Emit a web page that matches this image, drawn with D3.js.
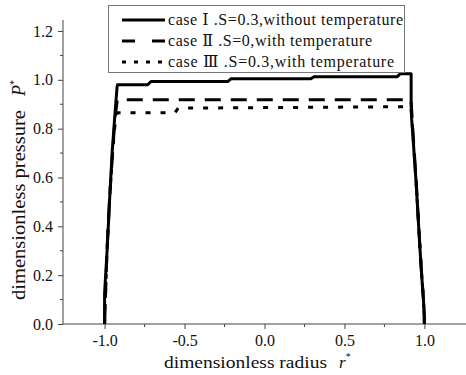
<!DOCTYPE html>
<html>
<head>
<meta charset="utf-8">
<script src="https://cdn.jsdelivr.net/npm/d3@7"></script>
<style>
  body { margin: 0; background: #fff; }
  text { font-family: "Liberation Serif", "DejaVu Serif", serif; }
</style>
</head>
<body>
<svg width="466" height="375"></svg>
<script>
// case I: S=0.3, without temperature (solid)
const rCase1 = [-1.0, -1.0, -0.983, -0.969, -0.952, -0.937, -0.922, -0.919, -0.73, -0.71, -0.23, -0.21, 0.29, 0.31, 0.83, 0.85, 0.917, 0.917, 0.92, 0.927, 0.948, 0.964, 0.979, 0.994, 1.0, 1.0];
const pCase1 = [0, 0.126, 0.315, 0.504, 0.71, 0.843, 0.97, 0.98, 0.98, 0.993, 0.993, 1.004, 1.004, 1.013, 1.013, 1.025, 1.025, 0.9, 0.84, 0.78, 0.58, 0.40, 0.235, 0.098, 0.03, 0];
// case II: S=0, with temperature (dashed)
const rCase2 = [-1.0, -0.985, -0.97, -0.95, -0.935, -0.922, -0.92, 0.915, 0.918, 0.93, 0.95, 0.965, 0.98, 0.995, 1.0];
const pCase2 = [0, 0.3, 0.5, 0.7, 0.84, 0.91, 0.918, 0.918, 0.9, 0.77, 0.57, 0.39, 0.23, 0.09, 0];
// case III: S=0.3, with temperature (dotted)
const rCase3 = [-1.0, -0.985, -0.97, -0.95, -0.932, -0.922, -0.92, -0.56, -0.54, 0.915, 0.918, 0.93, 0.95, 0.965, 0.98, 0.995, 1.0];
const pCase3 = [0, 0.3, 0.5, 0.7, 0.84, 0.862, 0.865, 0.865, 0.884, 0.89, 0.87, 0.76, 0.56, 0.39, 0.23, 0.09, 0];

const xTicks = [-1.0, -0.5, 0.0, 0.5, 1.0];
const xTickLabels = ["-1.0", "-0.5", "0.0", "0.5", "1.0"];
const xMinorTicks = [-0.75, -0.25, 0.25, 0.75];
const yTicks = [0, 0.2, 0.4, 0.6, 0.8, 1.0, 1.2];
const yTickLabels = ["0.0", "0.2", "0.4", "0.6", "0.8", "1.0", "1.2"];
const yMinorTicks = [0.1, 0.3, 0.5, 0.7, 0.9, 1.1];
const legendLabels = ["case \u2160 .S=0.3,without temperature", "case \u2161 .S=0,with temperature", "case \u2162 .S=0.3,with temperature"];
const legendWidths = [235, 204, 226];

const svg = d3.select("svg");
const x = d3.scaleLinear().domain([-1.26, 1.26]).range([63, 466]);
const y = d3.scaleLinear().domain([0, 1.245]).range([324, 20]);
const axisColor = "#444";
const serif = "Liberation Serif";

// x axis
const gx = svg.append("g").attr("transform", "translate(0,324)");
gx.call(d3.axisBottom(x).tickValues(xTicks).tickSize(5).tickPadding(6)
  .tickFormat((d, i) => xTickLabels[i]));
gx.attr("font-family", serif);
gx.selectAll(".tick text").attr("font-size", 16).attr("fill", "#111");
gx.select(".domain").attr("stroke", axisColor).attr("d", "M63,0H466");
gx.selectAll(".tick line").attr("stroke", axisColor);
gx.selectAll(".minor").data(xMinorTicks).enter().append("line")
  .attr("x1", d => x(d)).attr("x2", d => x(d)).attr("y1", 0).attr("y2", 3)
  .attr("stroke", axisColor);

// y axis
const gy = svg.append("g").attr("transform", "translate(63,0)");
gy.call(d3.axisLeft(y).tickValues(yTicks).tickSize(5).tickPadding(5)
  .tickFormat((d, i) => yTickLabels[i]));
gy.attr("font-family", serif);
gy.selectAll(".tick text").attr("font-size", 16).attr("fill", "#111");
gy.select(".domain").attr("stroke", axisColor).attr("d", "M0,324V20");
gy.selectAll(".tick line").attr("stroke", axisColor);
gy.selectAll(".minor").data(yMinorTicks).enter().append("line")
  .attr("x1", 0).attr("x2", -3).attr("y1", d => y(d)).attr("y2", d => y(d))
  .attr("stroke", axisColor);

// axis titles
const yt = svg.append("text").attr("transform", "translate(25,300) rotate(-90)")
  .attr("font-family", serif).attr("font-size", 18).attr("fill", "#111");
yt.append("tspan").attr("textLength", 190).attr("lengthAdjust", "spacingAndGlyphs").text("dimensionless pressure");
yt.append("tspan").attr("dx", 14).attr("font-style", "italic").text("P");
yt.append("tspan").attr("font-size", 10).attr("dy", -8).text("*");

const xt = svg.append("text").attr("x", 164).attr("y", 368)
  .attr("font-family", serif).attr("font-size", 17).attr("fill", "#111");
xt.append("tspan").attr("textLength", 163).attr("lengthAdjust", "spacingAndGlyphs").text("dimensionless radius");
xt.append("tspan").attr("dx", 12).attr("font-style", "italic").text("r");
xt.append("tspan").attr("font-size", 10).attr("dy", -8).text("*");

// series
const line = d3.line().x(d => x(d[0])).y(d => y(d[1]));
const series = [
  { r: rCase3, p: pCase3, dash: "5,10" },
  { r: rCase2, p: pCase2, dash: "16,10" },
  { r: rCase1, p: pCase1, dash: null }
];
series.forEach(s => {
  svg.append("path")
    .attr("d", line(d3.zip(s.r, s.p)))
    .attr("fill", "none").attr("stroke", "#000").attr("stroke-width", 3)
    .attr("stroke-linejoin", "round")
    .attr("stroke-dasharray", s.dash);
});

// legend
const lg = svg.append("g");
lg.append("rect").attr("x", 108.5).attr("y", 5.5).attr("width", 296).attr("height", 67)
  .attr("fill", "#fff").attr("stroke", "#777").attr("stroke-width", 1);
const legendDash = [null, "13,17", "4,8"];
legendLabels.forEach((t, i) => {
  const ly = 20 + i * 21;
  lg.append("line").attr("x1", 122).attr("x2", 165).attr("y1", ly).attr("y2", ly)
    .attr("stroke", "#000").attr("stroke-width", 3).attr("stroke-dasharray", legendDash[i]);
  lg.append("text").attr("x", 168).attr("y", ly + 5).attr("font-family", serif)
    .attr("font-size", 16).attr("fill", "#111")
    .attr("textLength", legendWidths[i]).attr("lengthAdjust", "spacing").text(t);
});
</script>
</body>
</html>
